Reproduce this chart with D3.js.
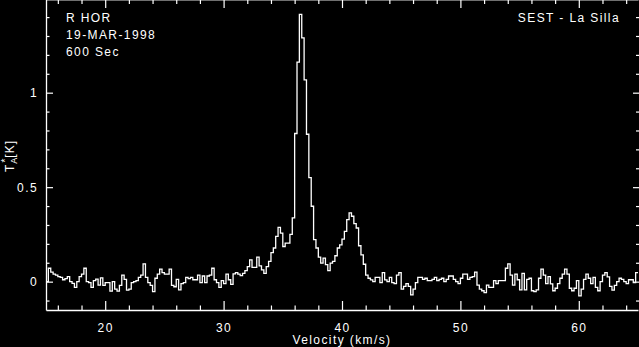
<!DOCTYPE html>
<html><head><meta charset="utf-8">
<script src="https://cdn.jsdelivr.net/npm/d3@7"></script>
<style>
html,body{margin:0;padding:0;background:#000;}
svg{display:block;}
text{font-family:"Liberation Sans",Arial,sans-serif;fill:#fff;}
</style></head>
<body>
<svg id="chart" width="639" height="347"></svg>
<script>
// ---- data ----
const channelStart = 15.0;   // km/s, left edge of first channel
const channelWidth = 0.2;    // km/s
const antennaTemp = [
  0.0, 0.071, 0.05, 0.04, 0.035, 0.027, 0.023, 0.01, 0.016, 0.027,
  0.0, -0.009, -0.03, 0.0, 0.027, 0.04, 0.071, 0.0, -0.005, -0.03,
  0.005, 0.013, -0.018, 0.02, -0.02, -0.005, -0.005, -0.05, 0.0, -0.04,
  -0.05, -0.02, 0.035, 0.012, -0.045, -0.04, -0.005, 0.0, 0.005, 0.023,
  0.035, 0.094, 0.023, -0.005, -0.02, -0.053, 0.018, 0.04, 0.066, 0.048,
  0.04, 0.04, 0.066, -0.02, -0.027, 0.012, -0.044, -0.01, -0.005, 0.023,
  0.016, 0.023, 0.01, 0.01, 0.035, -0.005, 0.03, -0.005, 0.03, 0.035,
  0.071, 0.01, -0.005, -0.03, 0.005, -0.01, 0.04, 0.01, -0.014, 0.041,
  0.048, 0.04, 0.032, 0.044, 0.058, 0.08, 0.115, 0.076, 0.076, 0.13,
  0.083, 0.062, 0.044, 0.08, 0.107, 0.154, 0.178, 0.24, 0.287, 0.257,
  0.186, 0.204, 0.204, 0.25, 0.337, 0.784, 1.162, 1.414, 1.29, 1.068,
  0.78, 0.55, 0.399, 0.222, 0.178, 0.13, 0.098, 0.124, 0.09, 0.058,
  0.098, 0.107, 0.137, 0.178, 0.195, 0.225, 0.266, 0.328, 0.364, 0.346,
  0.307, 0.284, 0.19, 0.142, 0.092, 0.035, 0.018, 0.009, 0.0, 0.023,
  0.023, -0.005, 0.048, 0.009, 0.0, 0.023, -0.005, -0.01, 0.035, 0.048,
  -0.04, -0.025, -0.01, -0.025, -0.07, -0.04, -0.005, 0.023, 0.023, 0.012,
  0.018, 0.005, 0.005, 0.012, 0.023, 0.005, 0.012, 0.018, 0.0, 0.012,
  0.03, 0.03, 0.012, 0.0, -0.01, 0.018, 0.04, 0.04, 0.012, 0.023,
  0.027, 0.05, -0.018, -0.04, -0.048, -0.058, -0.018, -0.03, -0.03, 0.005,
  -0.01, 0.005, 0.005, 0.005, 0.071, 0.094, 0.035, -0.018, 0.04, 0.01,
  -0.044, 0.044, -0.044, 0.012, 0.018, -0.048, -0.053, -0.044, 0.018, 0.066,
  0.035, -0.01, 0.027, -0.012, -0.048, -0.035, -0.01, 0.018, 0.04, 0.066,
  0.04, -0.035, -0.048, -0.035, 0.005, -0.075, -0.04, 0.012, 0.04, 0.018,
  -0.01, 0.023, -0.03, -0.048, 0.0, 0.035, 0.048, 0.025, -0.025, -0.045,
  -0.02, 0.0, 0.018, 0.012, 0.0, -0.01, 0.01, 0.01, -0.005, 0.048
];
const xMajorTicks = [20, 30, 40, 50, 60];
const xMinorTicks = [16,18,22,24,26,28,32,34,36,38,42,44,46,48,52,54,56,58,62,64];
const yMajorTicks = [0, 0.5, 1];
const yMinorTicks = [-0.1,0.1,0.2,0.3,0.4,0.6,0.7,0.8,0.9,1.1,1.2,1.3,1.4];
const yTickLabels = ["0", "0.5", "1"];
const infoLeft = ["R HOR", "19-MAR-1998", "600 Sec"];
const infoRight = "SEST - La Silla";
const xTitle = "Velocity (km/s)";

// ---- scales ----
const svg = d3.select("#chart");
svg.append("rect").attr("width",639).attr("height",347).attr("fill","#000");
const x = d3.scaleLinear().domain([15, 65]).range([46, 638]);
const y = d3.scaleLinear().domain([-0.15, 1.5]).range([310, -1.8]);
const LS = "1.4px";

function styleAxis(g){
  g.selectAll(".domain").attr("stroke","#fff").attr("stroke-width",1.3);
  g.selectAll(".tick line").attr("stroke","#fff").attr("stroke-width",1.2);
  g.selectAll("text").attr("fill","#fff").style("font-size","12px")
    .style("font-family",'"Liberation Sans",Arial,sans-serif').style("letter-spacing",LS);
}

// bottom axis
const gB = svg.append("g").attr("transform","translate(0,310)");
gB.call(d3.axisBottom(x).tickValues(xMinorTicks).tickSize(-4.5).tickSizeOuter(0).tickFormat(""));
gB.call(g=>styleAxis(g));
const gB2 = svg.append("g").attr("transform","translate(0,310)");
gB2.call(d3.axisBottom(x).tickValues(xMajorTicks).tickSize(-9).tickSizeOuter(0).tickPadding(13).tickFormat(d3.format("d")));
gB2.call(g=>styleAxis(g));
gB2.select(".domain").remove();

// top axis
const gT = svg.append("g").attr("transform","translate(0,-1)");
gT.call(d3.axisTop(x).tickValues(xMinorTicks).tickSize(-5).tickSizeOuter(0).tickFormat(""));
gT.call(g=>styleAxis(g));
const gT2 = svg.append("g").attr("transform","translate(0,-1)");
gT2.call(d3.axisTop(x).tickValues(xMajorTicks).tickSize(-9).tickSizeOuter(0).tickFormat(""));
gT2.call(g=>styleAxis(g));

// left axis
const gL = svg.append("g").attr("transform","translate(46,0)");
gL.call(d3.axisLeft(y).tickValues(yMinorTicks).tickSize(-3.5).tickSizeOuter(0).tickFormat(""));
gL.call(g=>styleAxis(g));
const gL2 = svg.append("g").attr("transform","translate(46,0)");
gL2.call(d3.axisLeft(y).tickValues(yMajorTicks).tickSize(-7).tickSizeOuter(0).tickPadding(8)
  .tickFormat((d,i)=>yTickLabels[i]));
gL2.call(g=>styleAxis(g));
gL2.select(".domain").remove();
gL2.selectAll("text").attr("x",-8).attr("text-anchor","end");

// right axis
const gR = svg.append("g").attr("transform","translate(640,0)");
gR.call(d3.axisRight(y).tickValues(yMinorTicks).tickSize(-4).tickSizeOuter(0).tickFormat(""));
gR.call(g=>styleAxis(g));
const gR2 = svg.append("g").attr("transform","translate(640,0)");
gR2.call(d3.axisRight(y).tickValues(yMajorTicks).tickSize(-7).tickSizeOuter(0).tickFormat(""));
gR2.call(g=>styleAxis(g));

// spectrum as histogram step line
const pts = antennaTemp.map((t,i)=>[channelStart + i*channelWidth, t]);
pts.push([channelStart + antennaTemp.length*channelWidth, antennaTemp[antennaTemp.length-1]]);
const line = d3.line().x(d=>x(d[0])).y(d=>y(d[1])).curve(d3.curveStepAfter);
svg.append("path").datum(pts).attr("d",line)
  .attr("fill","none").attr("stroke","#fff").attr("stroke-width",1.3)
  .attr("stroke-linejoin","miter");

// titles
svg.append("text").attr("x",(x(15)+x(65))/2).attr("y",344).attr("text-anchor","middle")
  .style("font-size","12px").style("letter-spacing",LS).text(xTitle);

const yl = svg.append("text").attr("transform","translate(14,156) rotate(-90)")
  .attr("text-anchor","middle").style("font-size","12px").style("letter-spacing","1px");
yl.append("tspan").text("T");
yl.append("tspan").attr("dy",3).style("font-size","9px").text("A");
yl.append("tspan").attr("dx",-6).attr("dy",-8).style("font-size","10px").text("*");
yl.append("tspan").attr("dy",5).text("[K]");

svg.selectAll("text.info").data(infoLeft).enter().append("text").attr("class","info")
  .attr("x",66).attr("y",(d,i)=>21.7 + i*17)
  .style("font-size","12px").style("letter-spacing",LS).text(d=>d);
svg.append("text").attr("x",620).attr("y",22.3).attr("text-anchor","end")
  .style("font-size","12px").style("letter-spacing",LS).text(infoRight);
</script>
</body></html>
